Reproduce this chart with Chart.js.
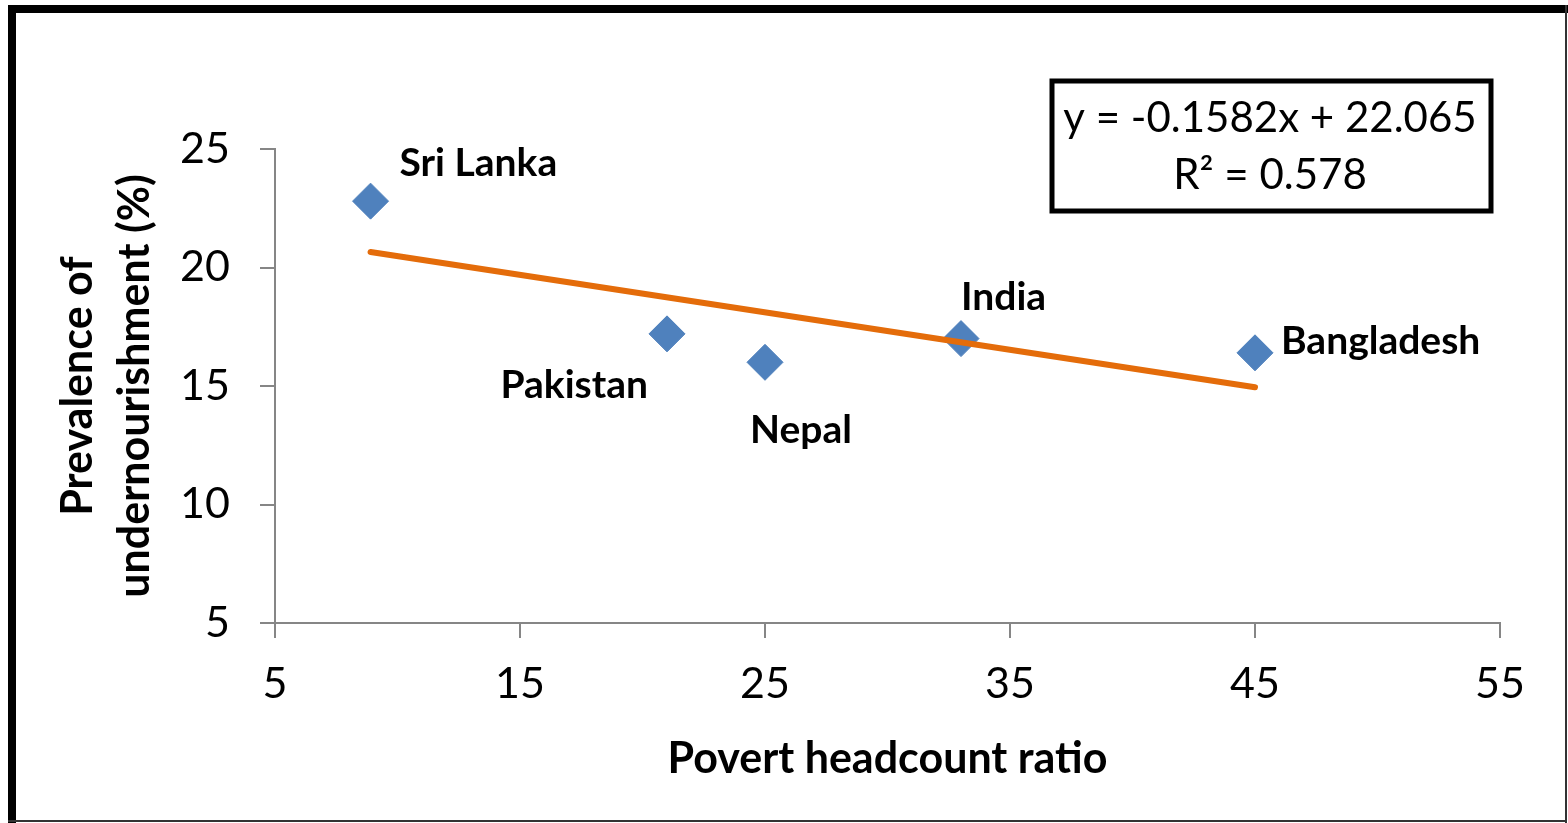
<!DOCTYPE html>
<html>
<head>
<meta charset="utf-8">
<script src="https://cdn.jsdelivr.net/npm/chart.js@4.4.0/dist/chart.umd.min.js"></script>
<style>
  html, body { margin:0; padding:0; background:#fff; }
  #wrap { width:1568px; height:823px; position:relative; }
</style>
</head>
<body>
<div id="wrap"><canvas id="scatter"></canvas></div>
<script>
// countries and their values
const countries = ["Sri Lanka", "Pakistan", "Nepal", "India", "Bangladesh"];
const povertyRatio = [8.9, 21.0, 25.0, 33.0, 45.0];
const undernourishment = [22.8, 17.2, 16.0, 17.0, 16.4];

// axis ticks
const xTicks = [5, 15, 25, 35, 45, 55];
const yTicks = [5, 10, 15, 20, 25];

// linear fit shown in the box
const trendSlope = -0.1582;
const trendIntercept = 22.065;
const rSquared = 0.578;

// where each country name sits relative to its marker: [dx, dy to baseline, align]
const labelOffsets = [[29, -25, "left"], [-19, 64, "right"], [-15, 81, "left"], [0, -29, "left"], [26, 1, "left"]];

const axisGray = "#868686";
const fontFamily = "Lato, 'Open Sans', sans-serif";

const points = povertyRatio.map((x, i) => ({ x: x, y: undernourishment[i] }));
const xLo = Math.min(...povertyRatio), xHi = Math.max(...povertyRatio);
const trendPoints = [xLo, xHi].map(x => ({ x: x, y: trendSlope * x + trendIntercept }));

// white page + frame around it
const framePlugin = {
  id: "frame",
  beforeDraw(chart) {
    const ctx = chart.ctx;
    ctx.save();
    ctx.fillStyle = "#fff";
    ctx.fillRect(0, 0, chart.width, chart.height);
    ctx.fillStyle = "#000";
    ctx.fillRect(8, 5, 1560, 8);   // top
    ctx.fillRect(8, 5, 8, 818);    // left
    ctx.fillStyle = "#333";
    ctx.fillRect(1565, 5, 2, 818); // right
    ctx.fillRect(8, 820, 1559, 2); // bottom
    ctx.restore();
  }
};

// country names next to the markers
const namePlugin = {
  id: "names",
  afterDatasetsDraw(chart) {
    const meta = chart.getDatasetMeta(1);
    const ctx = chart.ctx;
    ctx.save();
    ctx.fillStyle = "#000";
    ctx.font = "bold 39px " + fontFamily;
    ctx.textBaseline = "alphabetic";
    meta.data.forEach((pt, i) => {
      const [dx, dy, align] = labelOffsets[i];
      ctx.textAlign = align;
      ctx.fillText(countries[i], pt.x + dx, pt.y + dy);
    });
    ctx.restore();
  }
};

// equation box top right
const equationPlugin = {
  id: "equation",
  afterDraw(chart) {
    const ctx = chart.ctx;
    ctx.save();
    ctx.strokeStyle = "#000";
    ctx.lineWidth = 5;
    ctx.strokeRect(1052, 81, 439, 130);
    ctx.fillStyle = "#000";
    ctx.font = "42px " + fontFamily;
    ctx.textAlign = "center";
    ctx.textBaseline = "alphabetic";
    ctx.fillText("y = " + trendSlope + "x + " + trendIntercept, 1270, 132);
    ctx.fillText("R\u00b2 = " + rSquared, 1270, 189);
    ctx.restore();
  }
};

const gridOpts = {
  display: true,
  drawOnChartArea: false,
  drawTicks: true,
  tickLength: 15,
  color: axisGray,
  lineWidth: 2
};

new Chart(document.getElementById("scatter"), {
  type: "scatter",
  data: {
    datasets: [
      {
        type: "line",
        label: "Linear fit",
        data: trendPoints,
        borderColor: "#E46C0A",
        borderWidth: 6,
        borderCapStyle: "round",
        pointRadius: 0,
        fill: false
      },
      {
        label: "Countries",
        data: points,
        pointStyle: "rectRot",
        pointRadius: 18,
        backgroundColor: "#4F81BD",
        borderColor: "#4F81BD",
        borderWidth: 1
      }
    ]
  },
  options: {
    responsive: true,
    maintainAspectRatio: false,
    animation: false,
    layout: { padding: { top: 149, right: 68, left: 0, bottom: 0 } },
    plugins: { legend: { display: false }, tooltip: { enabled: false } },
    scales: {
      x: {
        type: "linear",
        min: 5, max: 55,
        afterBuildTicks: s => { s.ticks = xTicks.map(v => ({ value: v })); },
        afterFit: s => { s.height = 200; },
        grid: gridOpts,
        border: { display: true, color: axisGray, width: 2 },
        ticks: { color: "#000", padding: 20, font: { family: fontFamily, size: 43 } },
        title: {
          display: true,
          text: "Povert headcount ratio",
          color: "#000",
          font: { family: fontFamily, size: 43, weight: "bold" },
          padding: { top: 0, bottom: 38 }
        }
      },
      y: {
        type: "linear",
        min: 5, max: 25,
        afterBuildTicks: s => { s.ticks = yTicks.map(v => ({ value: v })); },
        afterFit: s => { s.width = 275; },
        grid: gridOpts,
        border: { display: true, color: axisGray, width: 2 },
        ticks: { color: "#000", padding: 30, font: { family: fontFamily, size: 43 } },
        title: {
          display: true,
          text: ["Prevalence of", "undernourishment (%)"],
          color: "#000",
          font: { family: fontFamily, size: 43, weight: "bold", lineHeight: 1.326 },
          padding: { top: 50, bottom: 0 }
        }
      }
    }
  },
  plugins: [framePlugin, namePlugin, equationPlugin]
});
</script>
</body>
</html>
